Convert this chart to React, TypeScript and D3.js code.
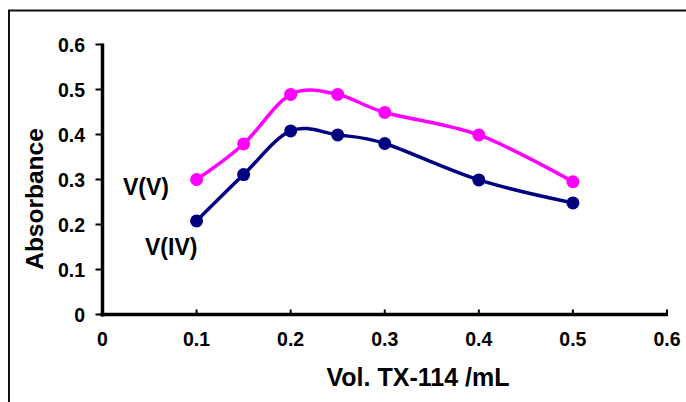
import React from "react";
import * as d3 from "d3";

const volumes = [0.1, 0.15, 0.2, 0.25, 0.3, 0.4, 0.5];
const vV = [0.3, 0.379, 0.489, 0.489, 0.449, 0.399, 0.295];
const vIV = [0.208, 0.311, 0.408, 0.399, 0.38, 0.299, 0.248];
const xTicks = [0, 0.1, 0.2, 0.3, 0.4, 0.5, 0.6];
const yTicks = [0, 0.1, 0.2, 0.3, 0.4, 0.5, 0.6];
const seriesNames = ["V(V)", "V(IV)"];

const W = 686;
const H = 402;
const FONT = "'Liberation Sans', Arial, sans-serif";

export default function App() {
  const x = d3.scaleLinear().domain([0, 0.6]).range([102.5, 667]);
  const y = d3.scaleLinear().domain([0, 0.6]).range([314.5, 44.5]);
  const line = d3
    .line<[number, number]>()
    .x((d) => x(d[0]))
    .y((d) => y(d[1]))
    .curve(d3.curveCardinal.tension(0));

  const series = [
    { name: seriesNames[0], values: vV, color: "#FF00FF" },
    { name: seriesNames[1], values: vIV, color: "#000080" },
  ];

  return (
    <svg
      width={W}
      height={H}
      style={{ position: "absolute", left: 0, top: 0, background: "#fff" }}
      fontFamily={FONT}
    >
      <rect x={9} y={10.5} width={720} height={450} fill="none" stroke="#111" strokeWidth={2} />

      {/* series */}
      {series.map((s) => {
        const pts = volumes.map((v, i) => [v, s.values[i]] as [number, number]);
        return (
          <g key={s.name}>
            <path d={line(pts) || ""} fill="none" stroke={s.color} strokeWidth={3.5} />
            {pts.map((p, i) => (
              <circle key={i} cx={x(p[0])} cy={y(p[1])} r={6.5} fill={s.color} />
            ))}
          </g>
        );
      })}

      {/* y axis */}
      <line x1={x(0)} x2={x(0)} y1={y(0.6) - 1} y2={y(0) + 2} stroke="#000" strokeWidth={3.5} />
      {yTicks.map((t) => (
        <g key={"y" + t}>
          <line x1={x(0) - 7} x2={x(0)} y1={y(t)} y2={y(t)} stroke="#000" strokeWidth={2} />
          <text
            x={85}
            y={y(t)}
            dy="0.38em"
            textAnchor="end"
            fontSize={19.5}
            fontWeight="bold"
            fill="#000"
          >
            {t === 0 ? "0" : t.toFixed(1)}
          </text>
        </g>
      ))}

      {/* x axis */}
      <line x1={x(0) - 2} x2={x(0.6) + 1} y1={y(0)} y2={y(0)} stroke="#000" strokeWidth={3.5} />
      {xTicks.map((t) => (
        <g key={"x" + t}>
          <line x1={x(t)} x2={x(t)} y1={y(0)} y2={y(0) - 5} stroke="#000" strokeWidth={2} />
          <text
            x={x(t)}
            y={346}
            textAnchor="middle"
            fontSize={19.5}
            fontWeight="bold"
            fill="#000"
          >
            {t === 0 ? "0" : t.toFixed(1)}
          </text>
        </g>
      ))}

      {/* axis titles */}
      <text x={418} y={386} textAnchor="middle" fontSize={25} fontWeight="bold" fill="#000">
        Vol. TX-114 /mL
      </text>
      <text
        transform="translate(43,199) rotate(-90)"
        textAnchor="middle"
        fontSize={24.5}
        fontWeight="bold"
        fill="#000"
      >
        Absorbance
      </text>

      {/* series labels */}
      <text x={123} y={195} fontSize={23} fontWeight="bold" fill="#000">
        {seriesNames[0]}
      </text>
      <text x={145} y={255} fontSize={23} fontWeight="bold" fill="#000">
        {seriesNames[1]}
      </text>
    </svg>
  );
}
